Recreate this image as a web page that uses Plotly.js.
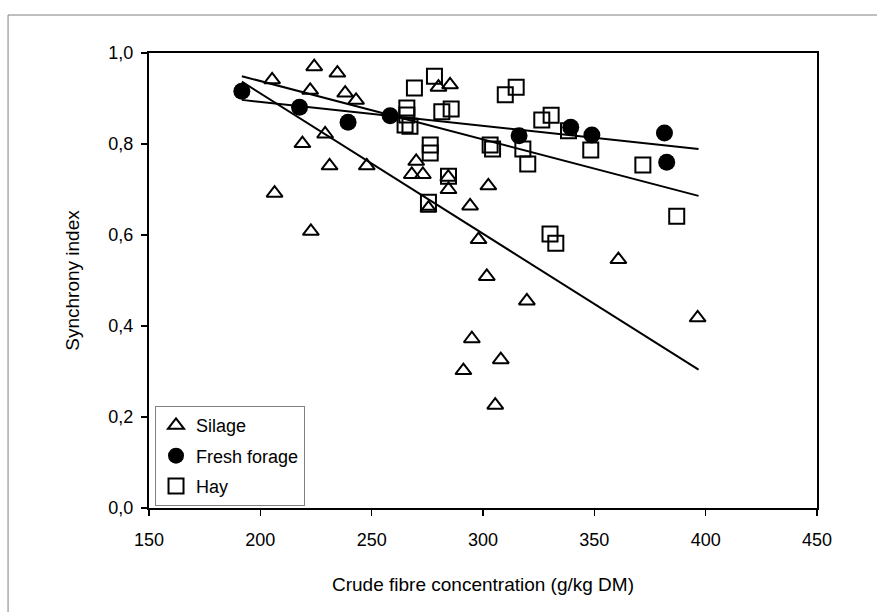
<!DOCTYPE html>
<html>
<head>
<meta charset="utf-8">
<script src="https://cdn.plot.ly/plotly-3.0.1.min.js"></script>
<style>
  html, body { margin: 0; padding: 0; background: #ffffff; }
  #chart { width: 877px; height: 612px; }
</style>
</head>
<body>
<div id="chart"></div>
<script>
// ---- Data ----
const silageX = [205.3, 224.2, 234.6, 222.4, 238.1, 243.0, 229.1, 218.9, 231.1, 247.8,
                 206.4, 222.7, 280.0, 285.2, 270.0, 268.0, 273.0, 284.4, 284.5, 275.5,
                 302.4, 294.2, 298.0, 301.7, 319.7, 295.0, 308.0, 291.2, 305.5, 360.8, 396.4];
const silageY = [0.941, 0.970, 0.956, 0.918, 0.912, 0.896, 0.822, 0.801, 0.752, 0.752,
                 0.692, 0.608, 0.925, 0.930, 0.762, 0.733, 0.733, 0.727, 0.700, 0.659,
                 0.708, 0.664, 0.590, 0.509, 0.455, 0.372, 0.326, 0.302, 0.226, 0.546, 0.418];

const freshX = [191.7, 217.6, 239.4, 258.3, 316.2, 339.4, 348.9, 381.5, 382.5];
const freshY = [0.916, 0.881, 0.848, 0.862, 0.818, 0.837, 0.820, 0.824, 0.760];

const hayX = [269.2, 278.2, 265.8, 265.8, 265.0, 267.2, 276.3, 276.3, 281.5, 285.7,
              284.5, 275.5, 310.0, 314.9, 326.4, 330.6, 338.4, 303.2, 304.3, 317.9,
              320.1, 348.4, 371.8, 387.0, 330.1, 332.7];
const hayY = [0.923, 0.949, 0.879, 0.864, 0.842, 0.839, 0.798, 0.780, 0.871, 0.877,
              0.729, 0.672, 0.908, 0.925, 0.853, 0.863, 0.829, 0.798, 0.789, 0.789,
              0.756, 0.787, 0.754, 0.641, 0.602, 0.582];

// Linear trend lines (end points)
const silageFitX = [191.7, 396.8];
const silageFitY = [0.937, 0.304];
const freshFitX = [191.7, 396.8];
const freshFitY = [0.897, 0.789];
const hayFitX = [191.7, 396.8];
const hayFitY = [0.949, 0.686];

const seriesNames = ["Silage", "Fresh forage", "Hay"];
const xTicks = [150, 200, 250, 300, 350, 400, 450];
const yTicks = [0, 0.2, 0.4, 0.6, 0.8, 1.0];

// ---- Traces ----
const fontFam = '"Liberation Sans", Arial, "DejaVu Sans", sans-serif';
const traces = [
  { type: 'scatter', mode: 'markers', name: seriesNames[0], x: silageX, y: silageY, legendgroup: 'g1',
    marker: { symbol: 'triangle-up-open', size: 14, color: '#000', line: { width: 2, color: '#000' } } },
  { type: 'scatter', mode: 'markers', name: seriesNames[1], x: freshX, y: freshY, legendgroup: 'g2',
    marker: { symbol: 'circle', size: 17, color: '#000', line: { width: 0 } } },
  { type: 'scatter', mode: 'markers', name: seriesNames[2], x: hayX, y: hayY, legendgroup: 'g3',
    marker: { symbol: 'square-open', size: 15, color: '#000', line: { width: 2, color: '#000' } } },
  { type: 'scatter', mode: 'lines', x: silageFitX, y: silageFitY, showlegend: false, hoverinfo: 'skip',
    line: { color: '#000', width: 2 } },
  { type: 'scatter', mode: 'lines', x: freshFitX, y: freshFitY, showlegend: false, hoverinfo: 'skip',
    line: { color: '#000', width: 2 } },
  { type: 'scatter', mode: 'lines', x: hayFitX, y: hayFitY, showlegend: false, hoverinfo: 'skip',
    line: { color: '#000', width: 2 } }
];

const layout = {
  width: 877, height: 612,
  margin: { l: 149, r: 60, t: 53, b: 104, pad: 0 },
  paper_bgcolor: '#ffffff', plot_bgcolor: '#ffffff',
  separators: ',.',
  font: { family: fontFam, color: '#000', size: 18 },
  showlegend: true,
  xaxis: {
    range: [150, 450], tickvals: xTicks, ticktext: xTicks.map(String),
    showgrid: false, zeroline: false,
    showline: true, linecolor: '#000', linewidth: 2, mirror: true,
    ticks: 'outside', ticklen: 6, tickwidth: 1.5, tickcolor: '#000',
    ticklabelstandoff: 8,
    tickfont: { family: fontFam, size: 18, color: '#000' },
    title: { text: 'Crude fibre concentration (g/kg DM)', font: { family: fontFam, size: 19, color: '#000' }, standoff: 29 }
  },
  yaxis: {
    range: [0, 1], tickvals: yTicks, tickformat: '.1f',
    showgrid: false, zeroline: false,
    showline: true, linecolor: '#000', linewidth: 2, mirror: true,
    ticks: 'outside', ticklen: 6, tickwidth: 1.5, tickcolor: '#000',
    ticklabelstandoff: 4,
    tickfont: { family: fontFam, size: 18, color: '#000' },
    title: { text: 'Synchrony index', font: { family: fontFam, size: 19, color: '#000' }, standoff: 24 }
  },
  legend: {
    x: 0.009, y: 0.224, xanchor: 'left', yanchor: 'top',
    bgcolor: '#ffffff', bordercolor: '#808080', borderwidth: 1,
    font: { family: fontFam, size: 18, color: '#000' },
    itemwidth: 30, traceorder: 'grouped', tracegroupgap: 4
  },
  shapes: [
    { type: 'rect', xref: 'paper', yref: 'paper', x0: -0.211, x1: 1.12, y0: -0.3, y1: 1.0835,
      line: { color: '#808080', width: 1 }, fillcolor: 'rgba(0,0,0,0)', layer: 'below' }
  ]
};

Plotly.newPlot('chart', traces, layout, { displayModeBar: false, staticPlot: true });
</script>
</body>
</html>
